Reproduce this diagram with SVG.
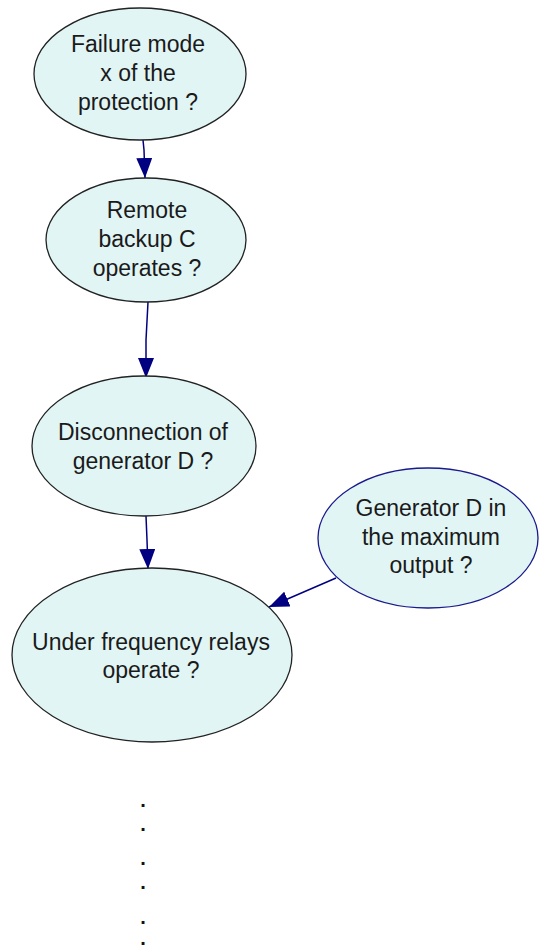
<svg xmlns="http://www.w3.org/2000/svg" width="539" height="950" viewBox="0 0 539 950">
  <style>
    .node ellipse { fill: #e1f5f5; stroke: #222222; stroke-width: 1.3; }
    .node.blue ellipse { stroke: #1a1a8c; }
    .node text { font-family: "Liberation Sans", Arial, sans-serif; font-size: 23px; fill: #1a1a1a; text-anchor: middle; }
    .dots text { font-family: "Liberation Sans", Arial, sans-serif; font-size: 20px; font-weight: bold; fill: #111111; text-anchor: middle; }
    .edge { fill: none; stroke: #000080; stroke-width: 1.5; }
  </style>
  <defs>
    <marker id="arrow" viewBox="0 0 20 16" refX="20" refY="8" markerWidth="20" markerHeight="16" markerUnits="userSpaceOnUse" orient="auto">
      <path d="M0,0 L20,8 L0,16 Z" fill="#000080"/>
    </marker>
  </defs>

  <g id="connectors">
    <polyline class="edge" points="143,140 144,150 145,178" marker-end="url(#arrow)"/>
    <polyline class="edge" points="148,302 146,340 146,378" marker-end="url(#arrow)"/>
    <polyline class="edge" points="146,516 147,540 148,569" marker-end="url(#arrow)"/>
    <line class="edge" x1="336" y1="578" x2="269" y2="607" marker-end="url(#arrow)"/>
  </g>

  <g id="failure-mode" class="node">
    <ellipse cx="140" cy="74" rx="106" ry="66"/>
    <text x="138" y="52">Failure mode</text>
    <text x="138" y="81">x of the</text>
    <text x="138" y="110">protection ?</text>
  </g>

  <g id="remote-backup" class="node">
    <ellipse cx="146" cy="240" rx="100" ry="62"/>
    <text x="147" y="218">Remote</text>
    <text x="147" y="247">backup C</text>
    <text x="147" y="276">operates ?</text>
  </g>

  <g id="disconnection" class="node">
    <ellipse cx="144" cy="446" rx="112" ry="70"/>
    <text x="143" y="440">Disconnection of</text>
    <text x="143" y="469">generator D ?</text>
  </g>

  <g id="generator-max" class="node blue">
    <ellipse cx="428" cy="538" rx="110" ry="70"/>
    <text x="431" y="516">Generator D in</text>
    <text x="431" y="545">the maximum</text>
    <text x="431" y="573">output ?</text>
  </g>

  <g id="under-frequency" class="node">
    <ellipse cx="152" cy="655" rx="140" ry="87"/>
    <text x="151" y="650">Under frequency relays</text>
    <text x="151" y="678">operate ?</text>
  </g>

  <!-- vertical ellipsis below the last node -->
  <g class="dots">
    <text x="143" y="807">.</text>
    <text x="143" y="831">.</text>
    <text x="143" y="865">.</text>
    <text x="143" y="889">.</text>
    <text x="143" y="924">.</text>
    <text x="143" y="945">.</text>
  </g>
</svg>
